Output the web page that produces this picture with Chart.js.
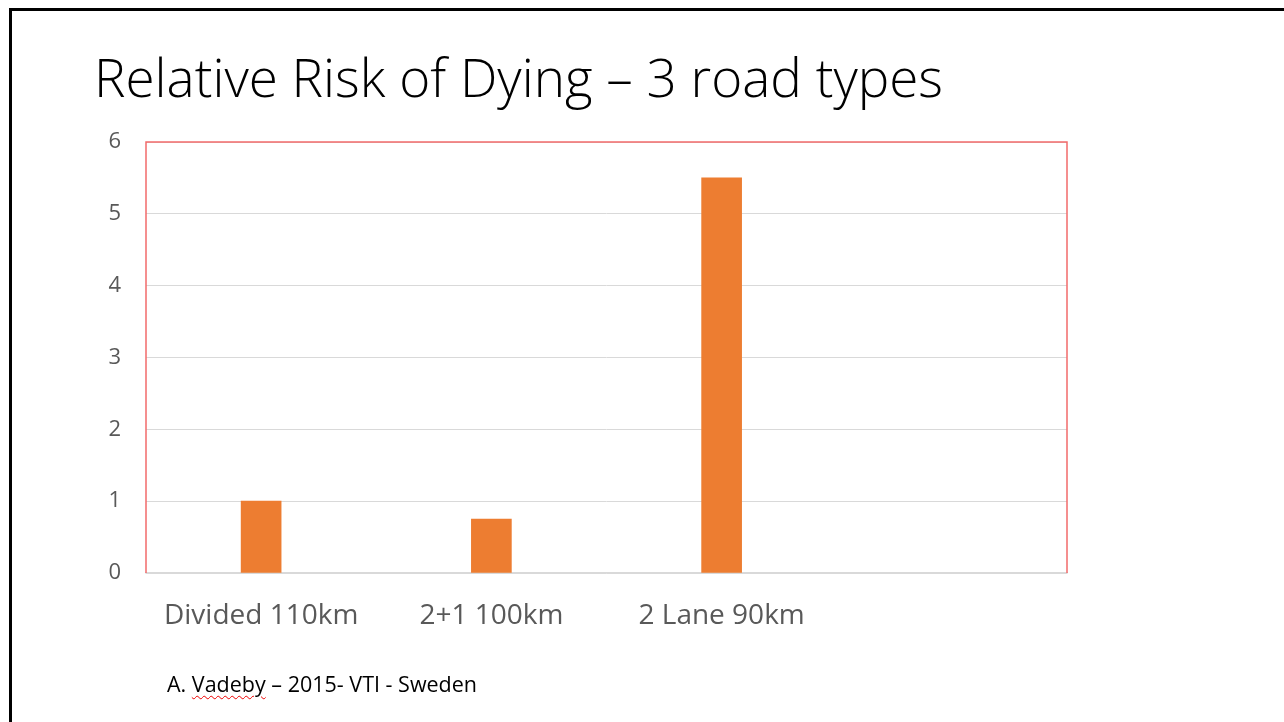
<!DOCTYPE html>
<html>
<head>
<meta charset="utf-8">
<script src="https://cdn.jsdelivr.net/npm/chart.js@4"></script>
<style>
  html, body { margin: 0; padding: 0; background: #fff; }
  #slide { position: relative; width: 1284px; height: 722px; overflow: hidden; }
  #frame { position: absolute; left: 9px; top: 8px; right: -10px; bottom: -10px;
           border-left: 3px solid #000; border-top: 3px solid #000; }
  #title { position: absolute; left: 94px; top: 50px; font-family: "Open Sans", sans-serif;
           font-weight: 300; font-size: 53px; color: #000; white-space: nowrap; line-height: 1; }
  #note { position: absolute; left: 167px; top: 673px; font-family: "Open Sans", sans-serif;
          font-size: 21.5px; color: #000; white-space: nowrap; line-height: 1; }
  #note span { text-decoration: underline wavy #e00; text-underline-offset: 3px; text-decoration-thickness: 1px; }
  #chartBox { position: absolute; left: 0; top: 0; width: 1284px; height: 722px; }
</style>
</head>
<body>
<div id="slide">
  <div id="frame"></div>
  <div id="title">Relative Risk of Dying – 3 road types</div>
  <div id="chartBox"><canvas id="container-chart"></canvas></div>
  <div id="note">A. <span>Vadeby</span> – 2015- VTI - Sweden</div>
</div>
<script>
// datos
const categorias = ['Divided 110km', '2+1 100km', '2 Lane 90km', ''];
const riesgo = [1, 0.75, 5.5, null];
const ticksY = [0, 1, 2, 3, 4, 5, 6];

const ctx = document.querySelector('#container-chart').getContext('2d');

// marco rojo alrededor del area del grafico
const marcoRojo = {
  id: 'marcoRojo',
  afterDraw(chart) {
    const a = chart.chartArea;
    const c = chart.ctx;
    c.save();
    c.strokeStyle = '#f26b6b';
    c.lineWidth = 1.5;
    c.beginPath();
    c.moveTo(a.left, a.bottom);
    c.lineTo(a.left, a.top);
    c.lineTo(a.right, a.top);
    c.lineTo(a.right, a.bottom);
    c.stroke();
    c.restore();
  }
};

const configChart = {
  type: 'bar',
  data: {
    labels: categorias,
    datasets: [{
      label: 'Relative risk',
      data: riesgo,
      backgroundColor: '#ED7D31',
      borderWidth: 0,
      barThickness: 40
    }]
  },
  options: {
    responsive: false,
    animation: false,
    layout: { padding: { left: 80, right: 217, top: 142, bottom: 0 } },
    plugins: { legend: { display: false }, tooltip: { enabled: false } },
    scales: {
      x: {
        grid: { display: false },
        border: { color: '#d9d9d9', width: 1.5 },
        ticks: { color: '#595959', font: { family: 'Open Sans', size: 28 }, padding: 18, maxRotation: 0 },
        afterFit: (s) => { s.height = 149; }
      },
      y: {
        min: 0,
        max: 6,
        afterBuildTicks: (s) => { s.ticks = ticksY.map(v => ({ value: v })); },
        grid: { color: '#d9d9d9', drawTicks: false },
        border: { display: false },
        ticks: { color: '#595959', font: { family: 'Open Sans', size: 22 }, padding: 25 },
        afterFit: (s) => { s.width = 66; }
      }
    }
  },
  plugins: [marcoRojo]
};

const canvas = document.querySelector('#container-chart');
canvas.width = 1284;
canvas.height = 722;
const myChart = new Chart(ctx, configChart);
</script>
</body>
</html>
